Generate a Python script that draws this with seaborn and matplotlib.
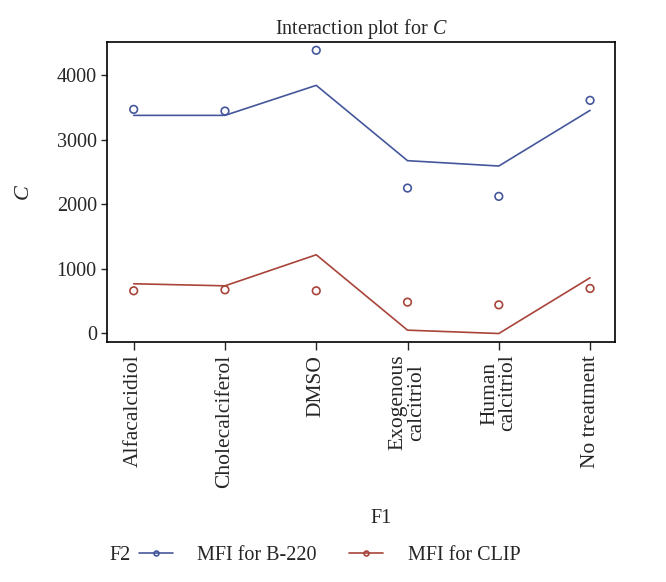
import seaborn as sns
import numpy as np
import pandas as pd
import matplotlib.pyplot as plt
from matplotlib.lines import Line2D

treatments = ['Alfacalcidiol', 'Cholecalciferol', 'DMSO',
              'Exogenous\ncalcitriol', 'Human\ncalcitriol', 'No treatment']
b220_fit = [3380, 3380, 3846, 2677, 2594, 3458]
b220_obs = [3473, 3447, 4390, 2252, 2123, 3613]
clip_fit = [767, 735, 1217, 47, -5, 860]
clip_obs = [658, 673, 658, 482, 440, 694]
series = ['MFI for B-220', 'MFI for CLIP']

sns.set_style('ticks')
plt.rcParams['font.family'] = ['Liberation Serif', 'DejaVu Serif']
plt.rcParams['mathtext.fontset'] = 'custom'
plt.rcParams['mathtext.it'] = 'Liberation Serif:italic'
plt.rcParams['mathtext.rm'] = 'Liberation Serif'

fit = pd.DataFrame({'F1': treatments * 2, 'C': b220_fit + clip_fit,
                    'F2': [series[0]] * 6 + [series[1]] * 6})
obs = pd.DataFrame({'F1': treatments * 2, 'C': b220_obs + clip_obs,
                    'F2': [series[0]] * 6 + [series[1]] * 6})
pal = {series[0]: '#45579c', series[1]: '#a8443a'}

fig = plt.figure(figsize=(6.66, 5.82), dpi=100)
ax = fig.add_axes([0.161, 0.412, 0.762, 0.516])
sns.lineplot(data=fit, x='F1', y='C', hue='F2', palette=pal, lw=1.2,
             sort=False, legend=False, ax=ax)
sns.scatterplot(data=obs, x='F1', y='C', hue='F2', palette=pal, s=30,
                facecolor='none', linewidth=1.2, legend=False, ax=ax)
for coll in ax.collections:
    coll.set_facecolor('none')
    coll.set_edgecolor([pal[series[0]]] * 6 + [pal[series[1]]] * 6)

ax.set_xlim(-0.29, 5.27)
ax.set_ylim(-140, 4520)
ax.set_yticks([0, 1000, 2000, 3000, 4000])
ax.set_xticks(range(6))
ax.set_xticklabels(treatments, rotation=90, fontsize=15.5, linespacing=0.95)
ax.tick_params(axis='y', labelsize=14.5, length=4, width=1)
ax.tick_params(axis='x', length=6, width=1, pad=3)
for sp in ax.spines.values():
    sp.set_visible(True)
    sp.set_linewidth(1.2)
    sp.set_color('black')
ax.set_title('Interaction plot for $C$', fontsize=14.5)
ax.set_xlabel('F1', fontsize=14.5)
ax.xaxis.set_label_coords(0.54, -0.555)
ax.set_ylabel('$C$', fontsize=16, labelpad=16)

handles = [Line2D([], [], color=pal[s], lw=1.2, marker='o', ms=3.5,
                  mfc='none', mew=1.2) for s in series]
fig.text(0.18, 0.046, 'F2', fontsize=14.5, ha='center', va='center')
fig.legend(handles, series, loc='center', bbox_to_anchor=(0.495, 0.046),
           ncol=2, frameon=False, fontsize=14.5, handlelength=1.7,
           columnspacing=1.6, handletextpad=1.2)

fig.savefig('out.png', dpi=100)
